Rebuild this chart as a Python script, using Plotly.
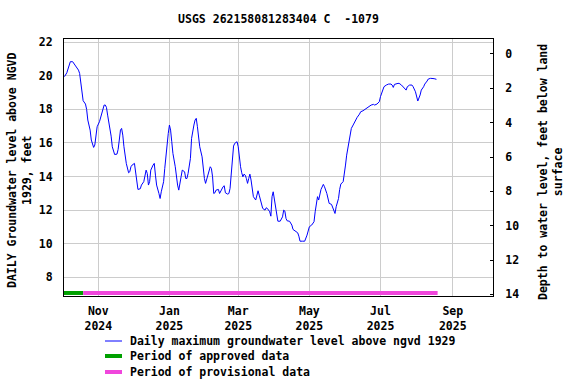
import plotly.graph_objects as go

# ---- data ----
dates = [
 "2024-10-03","2024-10-05","2024-10-08","2024-10-10","2024-10-12","2024-10-15","2024-10-16","2024-10-17","2024-10-18","2024-10-19",
 "2024-10-21","2024-10-22","2024-10-23","2024-10-25","2024-10-26","2024-10-28","2024-10-29","2024-10-30","2024-10-31","2024-11-02",
 "2024-11-03","2024-11-04","2024-11-06","2024-11-07","2024-11-08","2024-11-09","2024-11-10","2024-11-11","2024-11-12","2024-11-13",
 "2024-11-14","2024-11-15","2024-11-17","2024-11-18","2024-11-19","2024-11-20","2024-11-21","2024-11-22","2024-11-23","2024-11-24",
 "2024-11-25","2024-11-27","2024-11-28","2024-11-29","2024-11-30","2024-12-02","2024-12-03","2024-12-04","2024-12-05","2024-12-07",
 "2024-12-08","2024-12-10","2024-12-11","2024-12-12","2024-12-13","2024-12-14","2024-12-15","2024-12-16","2024-12-18","2024-12-19",
 "2024-12-20","2024-12-21","2024-12-23","2024-12-24","2024-12-25","2024-12-27","2024-12-28","2024-12-29","2024-12-30","2024-12-31",
 "2025-01-01","2025-01-02","2025-01-03","2025-01-04","2025-01-06","2025-01-07","2025-01-08","2025-01-09","2025-01-10","2025-01-11",
 "2025-01-12","2025-01-14","2025-01-15","2025-01-16","2025-01-17","2025-01-19","2025-01-20","2025-01-21","2025-01-22","2025-01-23",
 "2025-01-24","2025-01-25","2025-01-26","2025-01-27","2025-01-29","2025-01-30","2025-01-31","2025-02-01","2025-02-02","2025-02-03",
 "2025-02-05","2025-02-06","2025-02-07","2025-02-08","2025-02-09","2025-02-10","2025-02-12","2025-02-13","2025-02-14","2025-02-16",
 "2025-02-17","2025-02-18","2025-02-20","2025-02-21","2025-02-22","2025-02-23","2025-02-24","2025-02-25","2025-02-26","2025-02-28",
 "2025-03-01","2025-03-02","2025-03-03","2025-03-04","2025-03-05","2025-03-06","2025-03-07","2025-03-08","2025-03-09","2025-03-10",
 "2025-03-11","2025-03-12","2025-03-13","2025-03-14","2025-03-16","2025-03-17","2025-03-18","2025-03-19","2025-03-20","2025-03-21",
 "2025-03-22","2025-03-24","2025-03-25","2025-03-26","2025-03-28","2025-03-29","2025-03-30","2025-03-31","2025-04-01","2025-04-02",
 "2025-04-04","2025-04-06","2025-04-08","2025-04-09","2025-04-10","2025-04-11","2025-04-12","2025-04-14","2025-04-16","2025-04-17",
 "2025-04-19","2025-04-21","2025-04-22","2025-04-23","2025-04-25","2025-04-27","2025-04-29","2025-04-30","2025-05-01","2025-05-03",
 "2025-05-05","2025-05-06","2025-05-07","2025-05-08","2025-05-09","2025-05-10","2025-05-11","2025-05-13","2025-05-14","2025-05-16",
 "2025-05-17","2025-05-18","2025-05-20","2025-05-22","2025-05-23","2025-05-24","2025-05-26","2025-05-27","2025-05-28","2025-05-30",
 "2025-05-31","2025-06-01","2025-06-02","2025-06-04","2025-06-05","2025-06-06","2025-06-08","2025-06-09","2025-06-11","2025-06-13",
 "2025-06-14","2025-06-16","2025-06-18","2025-06-20","2025-06-23","2025-06-25","2025-06-26","2025-06-28","2025-06-30","2025-07-01",
 "2025-07-03","2025-07-04","2025-07-06","2025-07-08","2025-07-10","2025-07-11","2025-07-12","2025-07-13","2025-07-16","2025-07-17",
 "2025-07-19","2025-07-21","2025-07-23","2025-07-24","2025-07-26","2025-07-28","2025-07-29","2025-07-31","2025-08-01","2025-08-02",
 "2025-08-04","2025-08-05","2025-08-07","2025-08-08","2025-08-10","2025-08-11","2025-08-13","2025-08-15","2025-08-16","2025-08-18",
]
levels = [
 19.94,20.17,20.83,20.83,20.63,20.33,20.13,19.64,19.04,18.51,
 18.31,17.99,17.36,16.76,16.17,15.73,15.87,16.56,16.96,17.26,
 17.52,17.85,18.25,18.25,18.11,17.65,17.26,16.80,16.40,15.77,
 15.47,15.31,15.33,15.61,16.17,16.76,16.86,16.46,15.77,15.27,
 14.78,14.22,14.28,14.58,14.68,14.78,14.28,13.69,13.23,13.27,
 13.49,13.69,14.18,14.38,14.18,13.49,13.69,14.38,14.68,14.78,
 14.08,13.49,12.99,12.69,13.09,13.69,14.48,15.27,15.87,16.56,
 17.06,16.76,16.07,15.37,14.58,13.98,13.49,13.19,13.49,13.98,
 14.38,14.28,13.88,13.88,14.18,15.07,16.27,16.76,17.06,17.36,
 17.46,16.96,16.27,15.77,15.17,14.48,13.88,13.59,13.88,14.18,
 14.58,14.48,13.98,12.99,13.03,13.19,13.23,12.99,13.15,13.39,
 13.45,13.03,12.95,12.99,13.29,14.28,15.17,15.81,15.97,16.07,
 15.77,15.07,14.58,14.22,13.98,14.14,14.08,13.88,13.59,13.88,
 14.14,13.79,13.29,12.80,12.60,12.95,13.15,12.89,12.60,12.40,
 12.10,12.00,12.14,12.10,11.90,11.64,12.80,13.09,12.69,12.10,
 11.34,11.34,11.60,12.00,11.94,11.50,11.36,11.34,11.11,10.85,
 10.75,10.65,10.45,10.15,10.15,10.15,10.51,10.87,11.01,11.11,
 11.31,11.90,12.50,12.80,12.60,12.84,13.23,13.53,13.39,12.99,
 12.56,12.40,12.34,12.00,11.80,12.20,12.69,13.23,13.55,13.69,
 14.08,14.68,15.27,16.07,16.46,16.86,17.12,17.26,17.52,17.71,
 17.85,17.91,18.01,18.15,18.25,18.29,18.25,18.31,18.45,18.75,
 19.08,19.34,19.44,19.50,19.50,19.44,19.30,19.48,19.54,19.54,
 19.44,19.30,19.14,19.34,19.44,19.44,19.34,19.04,18.65,18.49,
 18.85,19.14,19.34,19.50,19.68,19.80,19.84,19.84,19.82,19.78,
]

approved_period = ["2024-10-02", "2024-10-19"]
provisional_period = ["2024-10-19", "2025-08-19"]
period_bar_level = [7.07, 7.07]

x_tick_vals = ["2024-11-01", "2025-01-01", "2025-03-01", "2025-05-01", "2025-07-01", "2025-09-01"]
x_tick_text = ["Nov<br>2024", "Jan<br>2025", "Mar<br>2025", "May<br>2025", "Jul<br>2025", "Sep<br>2025"]
left_ticks = [8, 10, 12, 14, 16, 18, 20, 22]
right_ticks = [0, 2, 4, 6, 8, 10, 12, 14]

title_text = "USGS 262158081283404 C  -1079"
left_title = "DAILY Groundwater level above NGVD<br>1929, feet"
right_title = "Depth to water level, feet below land<br>surface"
legend_labels = ["Daily maximum groundwater level above ngvd 1929",
                 "Period of approved data",
                 "Period of provisional data"]

BLUE = "#0000ff"
GREEN = "#00a000"
MAGENTA = "#f046dc"
FONT = dict(family="DejaVu Sans Mono", size=11.5, color="black", weight="bold")

fig = go.Figure()
fig.add_trace(go.Scatter(x=dates, y=levels, mode="lines",
                         line=dict(color=BLUE, width=1), showlegend=False))
fig.add_trace(go.Scatter(x=approved_period, y=period_bar_level, mode="lines",
                         line=dict(color=GREEN, width=4), showlegend=False))
fig.add_trace(go.Scatter(x=provisional_period, y=period_bar_level, mode="lines",
                         line=dict(color=MAGENTA, width=4), showlegend=False))
# invisible trace to activate the right axis
fig.add_trace(go.Scatter(x=[dates[0]], y=[0], yaxis="y2", mode="markers",
                         marker=dict(opacity=0), showlegend=False, hoverinfo="skip"))

fig.update_layout(
    width=576, height=384,
    margin=dict(l=64, r=83, t=39, b=88, autoexpand=False),
    paper_bgcolor="white", plot_bgcolor="white",
    font=FONT,
    title=dict(text=title_text, x=(64 + 493) / 2 / 576, xanchor="center",
               y=1 - 19 / 384, yanchor="middle", font=FONT),
    xaxis=dict(type="date", range=["2024-10-02 14:00", "2025-10-05 12:00"],
               tickvals=x_tick_vals, ticktext=x_tick_text, automargin=False,
               showgrid=True, gridcolor="#cccccc", gridwidth=1,
               showline=True, linecolor="black", linewidth=1, mirror=True,
               ticks="", ticklabelstandoff=4, zeroline=False, tickfont=FONT),
    yaxis=dict(range=[6.89, 22.18], tickvals=left_ticks, automargin=False,
               showgrid=True, gridcolor="#cccccc", gridwidth=1,
               showline=True, linecolor="black", linewidth=1, mirror=True,
               ticks="", ticklabelstandoff=8, zeroline=False, tickfont=FONT),
    yaxis2=dict(range=[14.09, -0.87], tickvals=right_ticks, overlaying="y", side="right",
                automargin=False,
                showgrid=False, showline=True, linecolor="black", linewidth=1,
                ticks="inside", ticklen=3, tickcolor="black",
                ticklabelstandoff=9, zeroline=False, tickfont=FONT),
)

pw, ph = 493 - 64, 296 - 39
def px(x):
    return (x - 64) / pw
def py(y):
    return (296 - y) / ph

annotations = [
    dict(text=left_title, x=px(19), y=py(171), xref="paper", yref="paper",
         textangle=-90, showarrow=False, xanchor="center", yanchor="middle", font=FONT),
    dict(text=right_title, x=px(551), y=py(172), xref="paper", yref="paper",
         textangle=-90, showarrow=False, xanchor="center", yanchor="middle", font=FONT),
]
shapes = []
legend_colors = [BLUE, GREEN, MAGENTA]
legend_widths = [1, 4, 4]
legend_rows = [341, 356, 372]
for lab, col, w, yy in zip(legend_labels, legend_colors, legend_widths, legend_rows):
    shapes.append(dict(type="line", xref="paper", yref="paper",
                       x0=px(105), x1=px(122), y0=py(yy), y1=py(yy),
                       line=dict(color=col, width=w)))
    annotations.append(dict(text=lab, x=px(128), y=py(yy), xref="paper", yref="paper",
                            showarrow=False, xanchor="left", yanchor="middle", font=FONT))
fig.update_layout(annotations=annotations, shapes=shapes)

fig.write_html("out.html", config={"displayModeBar": False},
               post_script="document.body.style.margin='0px';document.body.style.overflow='hidden';")
